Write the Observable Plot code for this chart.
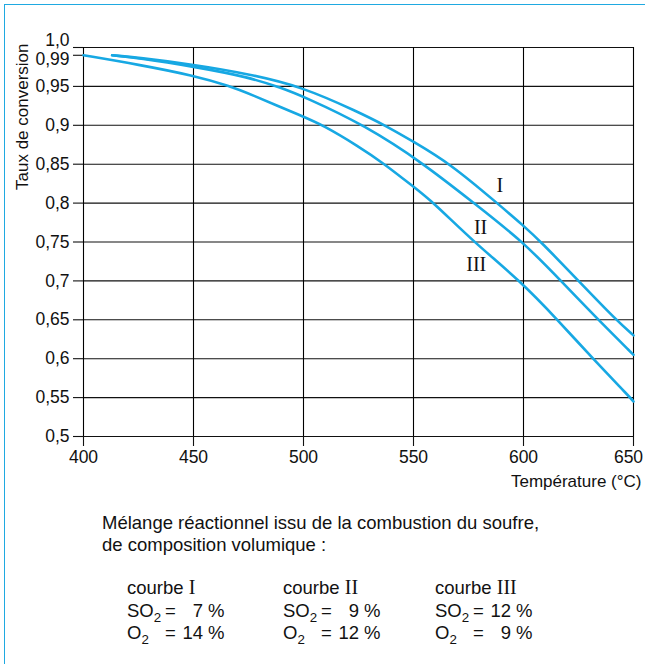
<!DOCTYPE html>
<html><head><meta charset="utf-8">
<script src="https://cdn.jsdelivr.net/npm/d3@7"></script>
<script src="https://cdn.jsdelivr.net/npm/@observablehq/plot@0.6"></script>
<style>
body{margin:0;background:#fff;}
#wrap{position:relative;width:645px;height:664px;overflow:hidden;font-family:"Liberation Sans",Arial,sans-serif;color:#111;}
#frame{position:absolute;left:4px;top:4px;right:0;bottom:0;border-left:1.5px solid #1fa9e1;border-top:1.5px solid #1fa9e1;}
#chart{position:absolute;left:0;top:0;}
.cap{position:absolute;left:102px;top:511.6px;font-size:18.5px;line-height:22px;white-space:nowrap;}
.col{position:absolute;top:577.3px;font-size:18.5px;line-height:22.5px;white-space:nowrap;}
.rom{font-family:"Liberation Serif","Times New Roman",serif;font-size:20px;line-height:0;}
.lab{display:inline-block;width:38px;}
.num{display:inline-block;width:22px;text-align:right;}
.sub{font-size:0.72em;position:relative;top:0.38em;line-height:0;}
</style></head><body>
<div id="wrap"><div id="frame"></div><div id="chart"></div>
<div class="cap" id="cap"></div>
<div id="cols"></div>
</div>
<script>
// ---- data ----
const curveNames = ["I", "II", "III"];
const tempI = [413, 425, 450, 475, 499, 525, 537, 550, 567, 588, 600, 608, 625, 642, 650];
const convI = [0.990, 0.987, 0.978, 0.966, 0.950, 0.917, 0.900, 0.879, 0.850, 0.800, 0.771, 0.750, 0.700, 0.650, 0.630];
const tempII = [413, 425, 450, 475, 490, 500, 528, 555, 577, 600, 617, 634, 650];
const convII = [0.990, 0.9865, 0.9755, 0.962, 0.948, 0.937, 0.900, 0.850, 0.801, 0.750, 0.700, 0.650, 0.605];
const tempIII = [400, 425, 450, 467, 475, 500, 509, 525, 536, 550, 559, 577, 598.5, 615.5, 631.5, 648.5, 650];
const convIII = [0.990, 0.978, 0.964, 0.950, 0.941, 0.911, 0.900, 0.873, 0.852, 0.821, 0.801, 0.751, 0.700, 0.650, 0.600, 0.550, 0.545];

const xTicks = [400, 450, 500, 550, 600];
const xTickLast = [650];
const yTicks = [0.5, 0.55, 0.6, 0.65, 0.7, 0.75, 0.8, 0.85, 0.9, 0.95];
const yTickLabels = ["0,5", "0,55", "0,6", "0,65", "0,7", "0,75", "0,8", "0,85", "0,9", "0,95"];
const yTickExtra = [0.99];
const yTickExtraLabels = ["0,99"];
const yTickTop = [1.0];
const yTickTopLabels = ["1,0"];

const labelT = [589.2, 580.5, 578.5];
const labelV = [0.822, 0.768, 0.7205];

const xTitle = "Température (°C)";
const yTitle = "Taux de conversion";
const captionLines = ["Mélange réactionnel issu de la combustion du soufre,", "de composition volumique :"];
const so2 = [7, 9, 12];
const o2 = [14, 12, 9];

// ---- build ----
const temps = [tempI, tempII, tempIII];
const convs = [convI, convII, convIII];
const data = [];
curveNames.forEach((name, k) => temps[k].forEach((t, i) => data.push({courbe: name, t, v: convs[k][i]})));
const labels = curveNames.map((name, i) => ({name, t: labelT[i], v: labelV[i]}));
const allX = xTicks.concat(xTickLast);

const blue = "#17a8e3";
const sans = "'Liberation Sans', Arial, sans-serif";

const chart = Plot.plot({
  width: 645, height: 500,
  marginLeft: 83, marginRight: 12, marginTop: 47, marginBottom: 64,
  x: {domain: [400, 650]},
  y: {domain: [0.5, 1.0]},
  style: {fontFamily: sans, fontSize: "17.5px", color: "#111", background: "transparent"},
  marks: [
    Plot.gridY(yTicks.concat(yTickTop), {stroke: "#111", strokeOpacity: 1, strokeWidth: 1.1}),
    Plot.gridX(allX, {stroke: "#000", strokeOpacity: 1, strokeWidth: 1.1}),
    Plot.axisY(yTicks.concat(yTickExtra, yTickTop), {tickSize: 10, fill: "none", label: null, strokeWidth: 1.1}),
    Plot.axisY(yTicks, {tickSize: 0, tickPadding: 14, tickFormat: (d) => yTickLabels[yTicks.indexOf(d)], label: null, fontSize: 17.5}),
    Plot.axisY(yTickExtra, {tickSize: 0, tickPadding: 14, tickFormat: (d) => yTickExtraLabels[yTickExtra.indexOf(d)], dy: 4.5, label: null, fontSize: 17.5}),
    Plot.axisY(yTickTop, {tickSize: 0, tickPadding: 14, tickFormat: (d) => yTickTopLabels[yTickTop.indexOf(d)], dy: -7, label: null, fontSize: 17.5}),
    Plot.axisX(allX, {tickSize: 10, fill: "none", label: null, strokeWidth: 1.1}),
    Plot.axisX(xTicks, {tickSize: 0, tickPadding: 14, label: null, fontSize: 17.5}),
    Plot.axisX(xTickLast, {tickSize: 0, tickPadding: 14, label: null, fontSize: 17.5, dx: -5}),
    Plot.line(data, {x: "t", y: "v", z: "courbe", stroke: blue, strokeWidth: 2.6, curve: "basis"}),
    Plot.text(labels, {x: "t", y: "v", text: "name", fontFamily: "'Liberation Serif', 'Times New Roman', serif", fontSize: 20, fill: "#111"}),
    Plot.text([yTitle], {frameAnchor: "top-left", text: d => d, rotate: -90, textAnchor: "end", lineAnchor: "bottom", dx: -56, dy: -4, fontSize: 17, fill: "#111"}),
    Plot.text([xTitle], {frameAnchor: "bottom-right", text: d => d, textAnchor: "end", lineAnchor: "bottom", dx: 8, dy: 50, fontSize: 17, fill: "#111"})
  ]
});
document.getElementById("chart").appendChild(chart);

document.getElementById("cap").innerHTML = captionLines.join("<br>");
const colX = [127, 283, 435];
const cols = document.getElementById("cols");
curveNames.forEach((name, i) => {
  const d = document.createElement("div");
  d.className = "col";
  d.style.left = colX[i] + "px";
  d.innerHTML =
    `courbe <span class="rom">${name}</span><br>` +
    `<span class="lab">SO<span class="sub">2</span></span>= <span class="num">${so2[i]}</span> %<br>` +
    `<span class="lab">O<span class="sub">2</span></span>= <span class="num">${o2[i]}</span> %`;
  cols.appendChild(d);
});
</script>
</body></html>
